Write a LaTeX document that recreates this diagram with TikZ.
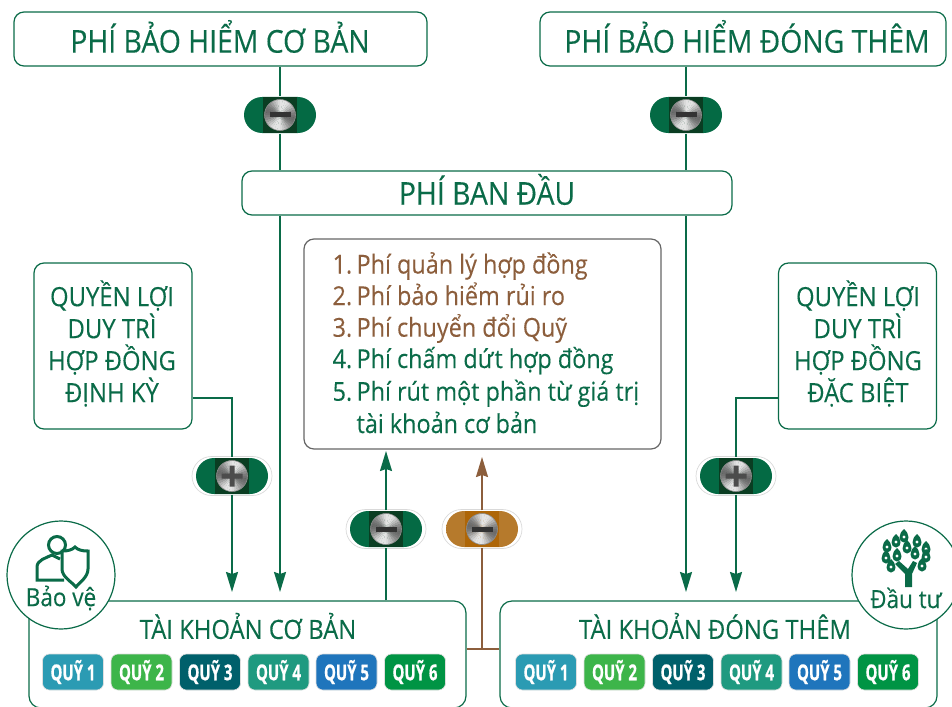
\documentclass[tikz,border=0pt]{standalone}
\usepackage{fontspec}
\setmainfont{Open Sans}[FakeStretch=0.9,FakeBold=0.2]
\newfontfamily\fundfont{Open Sans}[FakeStretch=0.68,FakeBold=0.6]
\usetikzlibrary{arrows.meta,shapes.misc}
\definecolor{lead}{HTML}{0A6B48}
\definecolor{pillgreen}{HTML}{046A44}
\definecolor{padgreen}{HTML}{0A3D22}
\definecolor{rust}{HTML}{8C5E3C}
\definecolor{amberA}{HTML}{B67A2C}
\definecolor{amberB}{HTML}{D69C38}
\definecolor{amberC}{HTML}{AE6608}
\definecolor{fundA}{HTML}{2B9BB3}
\definecolor{fundB}{HTML}{3DB54A}
\definecolor{fundC}{HTML}{00606B}
\definecolor{fundD}{HTML}{1F9A80}
\definecolor{fundE}{HTML}{1F75BC}
\definecolor{fundF}{HTML}{009444}
\tikzset{
  screwhead/.pic={
    \foreach \a in {0,10,...,350}{
      \pgfmathsetmacro{\lvl}{int(34-24*cos(2*(\a-100)))}
      \fill[black!\lvl] (0,0) -- (\a:15.5) arc (\a:\a+11:15.5) -- cycle;
    }
    \draw[black!45, line width=0.6pt] (0,0) circle (15.5);
  },
  screwminus/.pic={
    \pic {screwhead};
    \fill[black!80] (-10.5,-2.5) rectangle (10.5,2.5);
  },
  screwplus/.pic={
    \pic {screwhead};
    \fill[black!70] (-10.5,-2.5) rectangle (10.5,2.5) (-2.5,-10.5) rectangle (2.5,10.5);
  }
}
\begin{document}
\begin{tikzpicture}[x=1pt, y=-1pt, line width=1.2pt, draw=lead, text=lead]
    \tikzstyle{bigbox}=[rectangle, rounded corners=10pt, draw=lead, fill=white, minimum height=54pt, inner sep=0pt]
    \tikzstyle{bigtext}=[inner sep=0pt, font=\fontsize{31.5}{36}\selectfont]
    \tikzstyle{sidebox}=[rectangle, rounded corners=10pt, draw=lead, fill=white, minimum width=158pt, minimum height=166pt, inner sep=0pt]
    \tikzstyle{sidetext}=[inner sep=0pt, align=center, font=\fontsize{26.5}{32}\selectfont]
    \tikzstyle{account}=[rectangle, rounded corners=12pt, draw=lead, fill=white, minimum width=437pt, minimum height=107pt, inner sep=0pt]
    \tikzstyle{pill}=[rounded rectangle, minimum width=72pt, minimum height=36pt, inner sep=0pt, fill=pillgreen]
    \tikzstyle{halo}=[rounded rectangle, minimum width=80pt, minimum height=39pt, inner sep=0pt, draw=gray!30, line width=0.7pt]
    \tikzstyle{fund}=[rectangle, rounded corners=7pt, minimum width=61pt, minimum height=36pt, inner sep=0pt, text=white, draw=gray!25, line width=0.6pt, font=\fundfont\bfseries\fontsize{22}{24}\selectfont]
    \tikzstyle{badge}=[circle, draw=lead, fill=white, minimum size=108pt, inner sep=0pt]
    \tikzstyle{wire}=[line width=1.7pt]
    \tikzstyle{tip}=[wire, -{Stealth[length=20pt,width=12pt,inset=2pt]}]

    \useasboundingbox (0,0) rectangle (952,706);

    % boxes
    \node[bigbox, minimum width=413pt] (basic) at (220.5,39) {};
    \node[bigbox, minimum width=406pt] (extra) at (743,39) {};
    \node[bigbox, minimum width=490pt, minimum height=44pt] (initial) at (487,193) {};
    \node[sidebox] (regular) at (113,346) {};
    \node[sidebox] (special) at (857.5,346) {};
    \node[rectangle, rounded corners=10pt, draw=gray!80!black, minimum width=357pt, minimum height=210pt] (charges) at (482.5,344) {};
    \node[account] (acctA) at (247.5,654.5) {};
    \node[account] (acctB) at (718.5,654.5) {};

    % box texts
    \node[bigtext] (basicT) at (220,36.5) {PHÍ BẢO HIỂM CƠ BẢN};
    \node[bigtext] (extraT) at (747,36.5) {PHÍ BẢO HIỂM ĐÓNG THÊM};
    \node[bigtext] (initialT) at (487,189.5) {PHÍ BAN ĐẦU};
    \node[sidetext] (regularT) at (112,343.5) {QUYỀN LỢI\\DUY TRÌ\\HỢP ĐỒNG\\ĐỊNH KỲ};
    \node[sidetext] (specialT) at (858,343.5) {QUYỀN LỢI\\DUY TRÌ\\HỢP ĐỒNG\\ĐẶC BIỆT};

    % charge list
    \foreach \name/\y/\col/\num/\txt in {1/273.5/rust/1./Phí quản lý hợp đồng, 2/305/rust/2./Phí bảo hiểm rủi ro, 3/336.7/rust/3./Phí chuyển đổi Quỹ, 4/368/lead/4./Phí chấm dứt hợp đồng, 5/400.7/lead/5./Phí rút một phần từ giá trị, 6/433/lead//tài khoản cơ bản}
    \node[text=\col, anchor=base west, inner sep=0pt, font=\fontsize{26}{28}\selectfont] (L-\name) at (332,\y) {\makebox[24pt][l]{\num}\txt};

    % funds
    \node[font=\fontsize{26.5}{28}\selectfont] (titleA) at (248,626) {TÀI KHOẢN CƠ BẢN};
    \node[font=\fontsize{26.5}{28}\selectfont] (titleB) at (715,626) {TÀI KHOẢN ĐÓNG THÊM};
    \foreach \n/\x/\col in {1/73/fundA, 2/141.5/fundB, 3/210/fundC, 4/278.5/fundD, 5/346.5/fundE, 6/415/fundF}
    \node[fund, fill=\col] (FA-\n) at (\x,672) {QUỸ \n};
    \foreach \n/\x/\col in {1/546/fundA, 2/614.5/fundB, 3/683/fundC, 4/751.5/fundD, 5/819.5/fundE, 6/888/fundF}
    \node[fund, fill=\col] (FB-\n) at (\x,672) {QUỸ \n};

    % screws
    \node[halo] (hC) at (232,476) {};
    \node[halo] (hD) at (736,476) {};
    \node[halo] (hE) at (386,529) {};
    \node[halo] (hF) at (482,529) {};
    \node[pill] (sA) at (280,115) {};
    \node[pill] (sB) at (686,115) {};
    \node[pill] (sC) at (232,476) {};
    \node[pill] (sD) at (736,476) {};
    \node[pill] (sE) at (386,529) {};
    \node[pill, fill=none, left color=amberA, middle color=amberB, right color=amberA] (sF) at (482,529) {};
    \foreach \s in {sA,sB,sC,sD,sE}
    \fill[padgreen] (\s.center) +(-17,-18) rectangle +(17,18);
    \fill[amberC] (sF.center) +(-17,-18) rectangle +(17,18);
    \foreach \s in {sA,sB,sE,sF}
    \pic at (\s) {screwminus};
    \foreach \s in {sC,sD}
    \pic at (\s) {screwplus};

    % free ends of the arrows
    \coordinate (aA) at (280,592);
    \coordinate (aB) at (686,592);
    \coordinate (aC) at (232,592);
    \coordinate (aD) at (736,592);
    \coordinate (aE) at (386,451);
    \coordinate (aF) at (482,457);
    \coordinate (kL) at (232,398);
    \coordinate (kR) at (736,398);
    \coordinate (gap) at (482,649);

    % connectors
    \draw[wire] (sA |- basic.south) -- (sA.north);
    \draw[wire] (sA.south) -- (sA |- initial.north);
    \draw[tip] (sA |- initial.south) -- (aA);
    \draw[wire] (sB |- extra.south) -- (sB.north);
    \draw[wire] (sB.south) -- (sB |- initial.north);
    \draw[tip] (sB |- initial.south) -- (aB);
    \draw[wire] (regular.east |- kL) -- (kL) -- (sC.north);
    \draw[tip] (sC.south) -- (aC);
    \draw[wire] (special.west |- kR) -- (kR) -- (sD.north);
    \draw[tip] (sD.south) -- (aD);
    \draw[wire] (sE |- acctA.north) -- (sE.south);
    \draw[tip] (sE.north) -- (aE);
    \draw[wire, rust] (acctA.east |- gap) -- (acctB.west |- gap);
    \draw[wire, rust] (gap) -- (sF.south);
    \draw[tip, rust] (sF.north) -- (aF);

    % badges
    \node[badge] (protect) at (61,575) {};
    \node[badge] (invest) at (906,575) {};
    \node[inner sep=0pt, font=\fontsize{25}{28}\selectfont] (protectT) at (61,598) {Bảo vệ};
    \node[inner sep=0pt, font=\fontsize{25}{28}\selectfont] (investT) at (906,598) {Đầu tư};

    % person with shield
    \draw[line width=3pt] (57,545) circle (8.5);
    \draw[line width=3pt, fill=white] (64,580) -- (37,580) -- (37,567) .. controls (37,560) and (46,558) .. (52,555) -- (60,559);
    \draw[line width=3pt, fill=white] (62,551) .. controls (68,551) and (72,550) .. (75,547) .. controls (78,550) and (82,551) .. (88,551) -- (88,569) .. controls (88,577) and (80,582) .. (76,587) .. controls (72,582) and (62,577) .. (62,569) -- cycle;

    % money tree
    \foreach \x/\y in {904/537, 896/542, 917/542, 887/547, 907/548, 926/549, 886/558, 897/556, 915/554, 926/557, 891/567, 922/566}
    {
      \fill[lead, shift={(\x,\y)}] (0,-8) .. controls (6,-3) and (6,5) .. (0,5.5) .. controls (-6,5) and (-6,-3) .. (0,-8);
      \fill[white] (\x,\y) circle (1.6);
    }
    \fill[lead] (895,564) -- (899,561) -- (908,569) -- (913,561) -- (917,563) -- (912,574) -- (912,587) -- (905,587) -- (905,574) -- cycle;
\end{tikzpicture}
\end{document}
